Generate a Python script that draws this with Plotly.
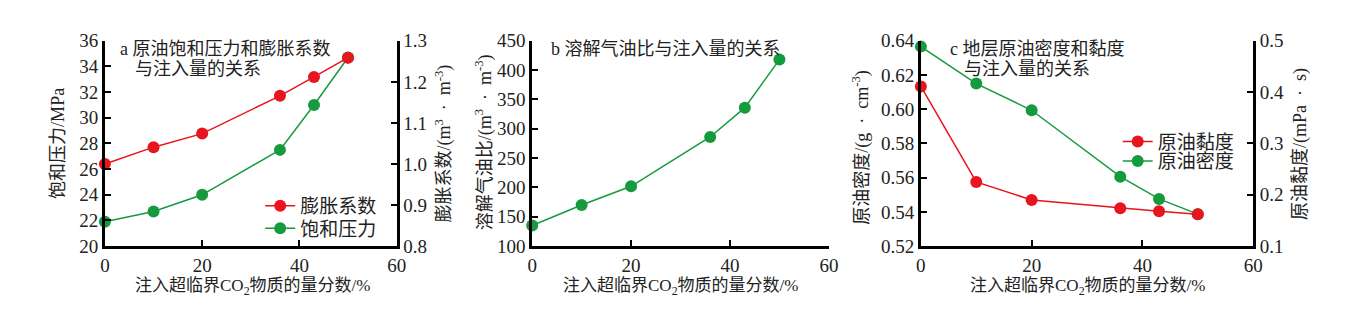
import plotly.graph_objects as go

# ---- data ----
x_inj = [0, 10, 20, 36, 43, 50]
expansion = [1.000, 1.041, 1.074, 1.166, 1.212, 1.259]      # 膨胀系数
sat_pressure = [21.9, 22.7, 24.0, 27.5, 31.0, 34.7]          # 饱和压力 MPa
gor = [135, 170, 202, 286, 336, 418]                         # 溶解气油比
viscosity = [0.411, 0.225, 0.190, 0.174, 0.168, 0.162]       # 原油黏度
density = [0.6366, 0.6150, 0.5994, 0.5606, 0.5476, 0.5387]   # 原油密度

x_ticks = [0, 20, 40, 60]

RED = "#e8141f"
GREEN = "#169a3e"
FONT = "Liberation Serif, Noto Sans CJK SC"
W, H = 1371, 315
FS = 18

def px(v):
    return v / W

def py(v):
    return (H - v) / H

fig = go.Figure()

def line(x, y, name, color, xa, ya, legend=None, show=True):
    fig.add_trace(go.Scatter(
        x=x, y=y, name=name, mode="lines+markers",
        line=dict(color=color, width=1.5),
        marker=dict(color=color, size=12),
        xaxis=xa, yaxis=ya, cliponaxis=False,
        showlegend=show, legend=legend))

line(x_inj, expansion, "膨胀系数", RED, "x", "y2", "legend")
line(x_inj, sat_pressure, "饱和压力", GREEN, "x", "y", "legend2")
line(x_inj, gor, "溶解气油比", GREEN, "x2", "y3", show=False)
line(x_inj, viscosity, "原油黏度", RED, "x3", "y5", "legend3")
line(x_inj, density, "原油密度", GREEN, "x3", "y4", "legend4")

ydom = [py(253), py(33)]
axcommon = dict(showline=True, linecolor="black", linewidth=2.5, ticks="inside",
                ticklen=6, tickwidth=2, tickcolor="black", showgrid=False,
                zeroline=False, tickfont=dict(family=FONT, size=19, color="#222"))

def xaxis(d0, d1, anchor):
    return dict(domain=[px(d0), px(d1)], range=[0, 60], tickvals=x_ticks,
                anchor=anchor, **axcommon)

legfont = dict(family=FONT, size=19, color="#222")

def leg(x, y):
    return dict(x=px(x), y=py(y), xanchor="left", yanchor="middle",
                bgcolor="rgba(0,0,0,0)", font=legfont, tracegroupgap=0,
                itemwidth=30, borderwidth=0)

fig.update_layout(
    width=W, height=H, margin=dict(l=0, r=0, t=0, b=0),
    paper_bgcolor="white", plot_bgcolor="white",
    font=dict(family=FONT, size=FS, color="#222"),
    xaxis=xaxis(101, 396, "y"),
    xaxis2=xaxis(533, 833, "y3"),
    xaxis3=xaxis(926, 1262, "y4"),
    yaxis=dict(domain=ydom, range=[20, 36], dtick=2, anchor="x", **axcommon),
    yaxis2=dict(range=[0.8, 1.3], dtick=0.1, tickformat=".1f", overlaying="y",
                side="right", anchor="x", **axcommon),
    yaxis3=dict(domain=ydom, range=[100, 450], dtick=50, anchor="x2", **axcommon),
    yaxis4=dict(domain=ydom, range=[0.52, 0.64], dtick=0.02, tickformat=".2f",
                anchor="x3", **axcommon),
    yaxis5=dict(range=[0.1, 0.5], dtick=0.1, tickformat=".1f", overlaying="y4",
                side="right", anchor="x3", **axcommon),
    legend=leg(258, 210),
    legend2=leg(258, 234),
    legend3=leg(1125, 141),
    legend4=leg(1125, 162),
)

def ann(x, y, text, angle=0, xanchor="center", size=FS):
    fig.add_annotation(x=px(x), y=py(y), xref="paper", yref="paper", text=text,
                       showarrow=False, textangle=angle, xanchor=xanchor,
                       yanchor="middle", font=dict(family=FONT, size=size, color="#222"))

xt = "注入超临界CO<sub>2</sub>物质的量分数/%"
ann(250, 297, xt, size=17)
ann(683, 297, xt, size=17)
ann(1094, 297, xt, size=17)

ann(54, 143, "饱和压力/MPa", -90)
ann(444, 143, "膨胀系数/(m<sup>3</sup>  ·  m<sup>-3</sup>)", -90)
ann(484, 142, "溶解气油比/(m<sup>3</sup>  ·  m<sup>-3</sup>)", -90)
ann(866, 148, "原油密度/(g  ·  cm<sup>-3</sup>)", -90)
ann(1310, 144, "原油黏度/(mPa  ·  s)", -90)

ann(114, 42, "a 原油饱和压力和膨胀系数", xanchor="left")
ann(129, 63, "与注入量的关系", xanchor="left")
ann(550, 42, "b 溶解气油比与注入量的关系", xanchor="left")
ann(953, 42, "c 地层原油密度和黏度", xanchor="left")
ann(968, 63, "与注入量的关系", xanchor="left")

fig.write_html("out.html")
